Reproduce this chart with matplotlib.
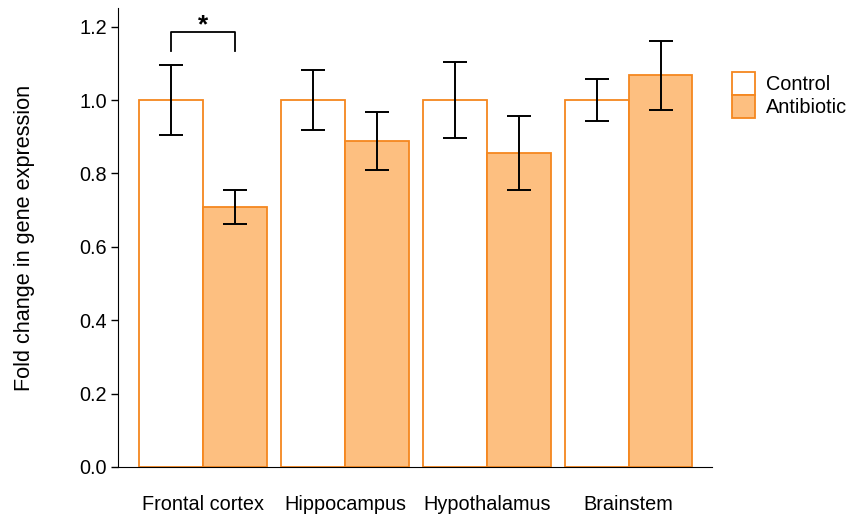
import matplotlib
matplotlib.use("Agg")
import matplotlib.pyplot as plt
import numpy as np

plt.rcParams['font.family'] = ['Liberation Sans', 'DejaVu Sans']

# data
regions = ["Frontal cortex", "Hippocampus", "Hypothalamus", "Brainstem"]
control = [1.0, 1.0, 1.0, 1.0]
control_err = [0.095, 0.082, 0.103, 0.056]
antibiotic = [0.708, 0.888, 0.856, 1.068]
antibiotic_err = [0.047, 0.079, 0.101, 0.094]

edge = "#F5871F"
fill = "#FDBF80"
w = 0.45

fig = plt.figure(figsize=(8.49, 5.16), dpi=100)
ax = fig.add_axes([0.139, 0.095, 0.700, 0.889])

x = np.arange(len(regions))
ax.bar(x - w / 2, control, w, color="white", edgecolor=edge, linewidth=1.3, label="Control")
ax.bar(x + w / 2, antibiotic, w, color=fill, edgecolor=edge, linewidth=1.3, label="Antibiotic")
ax.errorbar(x - w / 2, control, yerr=control_err, fmt="none", ecolor="black",
            elinewidth=1.4, capsize=8.5, capthick=1.4)
ax.errorbar(x + w / 2, antibiotic, yerr=antibiotic_err, fmt="none", ecolor="black",
            elinewidth=1.4, capsize=8.5, capthick=1.4)

# significance bracket over frontal cortex
x1, x2 = x[0] - w / 2, x[0] + w / 2
ax.plot([x1, x1, x2, x2], [1.133, 1.185, 1.185, 1.133], color="black", linewidth=1.3)
ax.text(x[0], 1.17, "*", ha="center", va="bottom", fontsize=19, fontweight="bold")

ax.set_xlim(-0.6, 3.59)
ax.set_ylim(0, 1.25)
ax.set_yticks([0.0, 0.2, 0.4, 0.6, 0.8, 1.0, 1.2])
ax.set_yticklabels(["0.0", "0.2", "0.4", "0.6", "0.8", "1.0", "1.2"])
ax.set_xticks(x)
ax.set_xticklabels(regions)
ax.tick_params(axis="x", length=0, pad=20, labelsize=14.3)
ax.tick_params(axis="y", length=5, width=1, labelsize=14.3, pad=3)
ax.spines["top"].set_visible(False)
ax.spines["right"].set_visible(False)
ax.set_ylabel("Fold change in gene expression", fontsize=15.6, labelpad=32)

ax.legend(loc="upper left", bbox_to_anchor=(1.033, 0.86), frameon=False, fontsize=14.3,
          labelspacing=0.0, handlelength=1.15, handleheight=1.38, handletextpad=0.55,
          borderaxespad=0.0, borderpad=0.0)

fig.savefig("out.png", dpi=100)
